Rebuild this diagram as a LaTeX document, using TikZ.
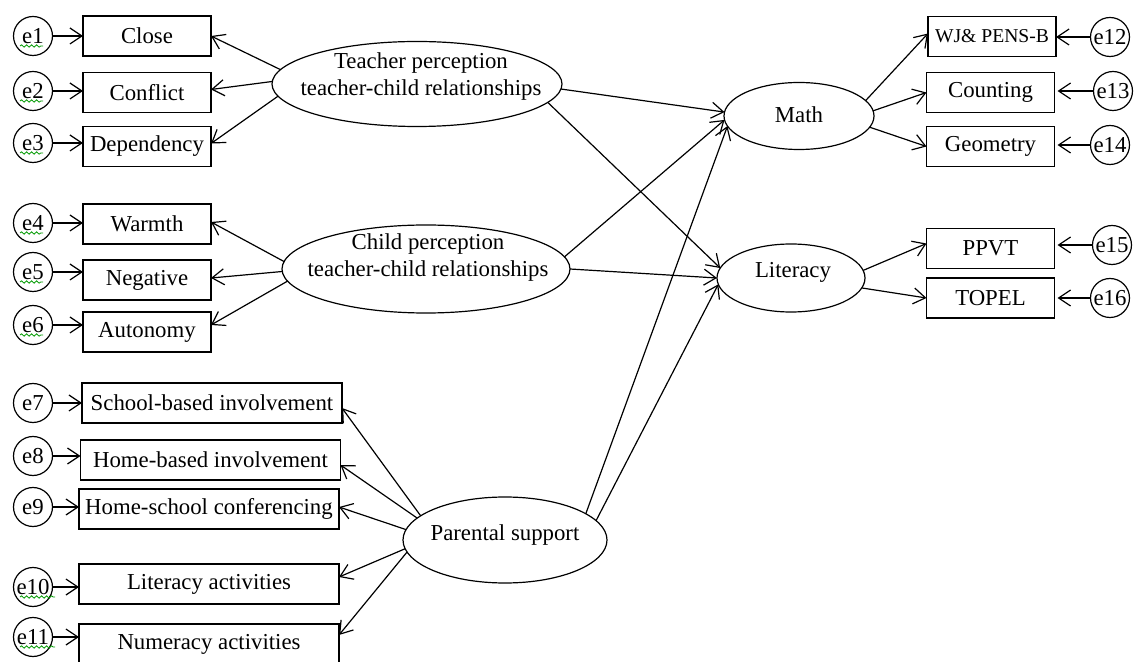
\documentclass[tikz,border=0pt]{standalone}
\usepackage{fontspec}
\setmainfont{Liberation Serif}
\usetikzlibrary{arrows.meta,shapes.geometric,decorations.pathmorphing}
\begin{document}
\begin{tikzpicture}[x=0.5pt,y=-0.5pt,
  every node/.style={font=\fontsize{11.4}{13.5}\selectfont, outer sep=0pt},
  obs/.style={draw, rectangle, minimum height=20pt, inner sep=1pt, line width=0.6pt},
  sbox/.style={obs, minimum width=64pt},
  lbox/.style={obs, minimum width=130pt},
  err/.style={draw, circle, minimum size=19.5pt, inner sep=0pt, line width=0.6pt},
  lat/.style={draw, ellipse, inner sep=0pt, line width=0.6pt},
  lbl/.style={align=center, inner sep=0pt},
  arr/.style={line width=0.6pt, -{Straight Barb[length=6pt,width=8pt]}},
  rarr/.style={arr, shorten >=1.5pt},
  wavy/.style={decorate, decoration={snake, amplitude=0.6pt, segment length=2.5pt}, green!60!black, line width=0.4pt},
]
\useasboundingbox (0,0) rectangle (1135,662);

% left upper indicators
\node[err] (e1) at (33,36) {e1};
\node[sbox] (close) at (147,36) {Close};
\node[err] (e2) at (33,91) {e2};
\node[sbox] (conflict) at (147,92.5) {Conflict};
\node[err] (e3) at (33,143) {e3};
\node[sbox] (dep) at (147,146.5) {Dependency};
\node[err] (e4) at (33,223) {e4};
\node[sbox] (warmth) at (147,224) {Warmth};
\node[err] (e5) at (33,272) {e5};
\node[sbox] (negative) at (147,280) {Negative};
\node[err] (e6) at (33,325) {e6};
\node[sbox] (autonomy) at (147,332) {Autonomy};

% left lower indicators
\node[err] (e7) at (33,403) {e7};
\node[lbox] (school) at (212,403) {School-based involvement};
\node[err] (e8) at (33,456) {e8};
\node[lbox] (homeb) at (210.5,460) {Home-based involvement};
\node[err] (e9) at (33,507) {e9};
\node[lbox] (homes) at (209,509) {Home-school conferencing};
\node[err] (e10) at (33,587) {e10};
\node[lbox] (litact) at (209,584) {Literacy activities};
\node[err] (e11) at (33,637) {e11};
\node[lbox] (numact) at (209,644) {Numeracy activities};

% right indicators
\node[sbox, font=\fontsize{9.8}{12}\selectfont] (wj) at (992,36.5) {WJ\& PENS-B};
\node[err] (e12) at (1110,37) {e12};
\node[sbox] (counting) at (990.5,92.5) {Counting};
\node[err] (e13) at (1113,91) {e13};
\node[sbox] (geometry) at (990.5,146.5) {Geometry};
\node[err] (e14) at (1110,145) {e14};
\node[sbox] (ppvt) at (990.5,248.5) {PPVT};
\node[err] (e15) at (1112,245) {e15};
\node[sbox] (topel) at (990.5,298) {TOPEL};
\node[err] (e16) at (1110,298) {e16};

% latent variables
\node[lat, minimum width=145pt, minimum height=42.5pt] (tp) at (417,84) {};
\node[lbl] (tpt) at (421,77) {Teacher perception\\teacher-child relationships};
\node[lat, minimum width=144pt, minimum height=44pt] (cp) at (426,269) {};
\node[lbl] (cpt) at (428,258) {Child perception\\teacher-child relationships};
\node[lat, minimum width=102pt, minimum height=43pt] (ps) at (505,540) {};
\node[lbl] (pst) at (505,535) {Parental support};
\node[lat, minimum width=75pt, minimum height=33.5pt] (math) at (799,116) {};
\node[lbl] (matht) at (799,115) {Math};
\node[lat, minimum width=74pt, minimum height=34pt] (lit) at (791,278) {};
\node[lbl] (litt) at (793,272) {Literacy};

% error arrows
\foreach \e/\b in {e1/close,e2/conflict,e3/dep,e4/warmth,e5/negative,e6/autonomy,e7/school,e8/homeb,e9/homes,e10/litact,e11/numact}
  \draw[arr] (\e.east) -- (\e -| \b.west);
\draw[arr] (e12.west) -- (e12 -| wj.east);
\foreach \e/\b in {e13/counting,e14/geometry,e15/ppvt,e16/topel}
  \draw[rarr] (\e.west) -- (\e -| \b.east);

% loadings
\draw[arr] (tp.174) -- (close.east);
\draw[arr] (tp.179) -- ([yshift=1.5pt]conflict.east);
\draw[arr] (tp.185) -- ([yshift=1.5pt]dep.east);
\draw[arr] (cp.177) -- ([yshift=1pt]warmth.east);
\draw[arr] (cp.181) -- ([yshift=1pt]negative.east);
\draw[arr] (cp.185) -- ([yshift=3.5pt]autonomy.east);
\draw[arr] (ps.164) -- ([yshift=-2.5pt]school.east);
\draw[arr] (ps.166) -- ([yshift=-2.5pt]homeb.east);
\draw[arr] (ps.174) -- ([yshift=1pt]homes.east);
\draw[arr] (ps.185) -- ([yshift=3.5pt]litact.east);
\draw[arr] (ps.187) -- ([yshift=4.5pt]numact.east);

% structural paths
\draw[arr] (tp.358) -- (math.177);
\draw[arr] (tp.352) -- (lit.172);
\draw[arr] (cp.5) -- (math.183);
\draw[arr] (cp.0) -- (lit.180);
\draw[arr] (ps.18) -- (math.188);
\draw[arr] (ps.12) -- (lit.185);

% outcome loadings
\draw[arr] (math.13) -- ([yshift=1.5pt]wj.west);
\draw[arr] (math.4) -- (counting.west);
\draw[arr] (math.351) -- (geometry.west);
\draw[arr] (lit.6) -- ([yshift=2.5pt]ppvt.west);
\draw[arr] (lit.352) -- (topel.west);

% spell-check underlines
\foreach \e in {e1,e2,e3,e4,e5,e6}
  \draw[wavy] ([shift={(-13,10)}]\e.center) -- ++(23,0);
\foreach \e in {e10,e11}
  \draw[wavy] ([shift={(-13,10)}]\e.center) -- ++(35,0);
\end{tikzpicture}
\end{document}
